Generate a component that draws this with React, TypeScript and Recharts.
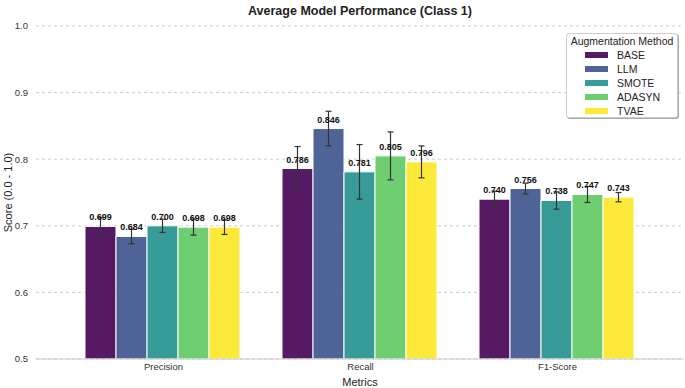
import { BarChart, Bar, XAxis, YAxis, CartesianGrid, ErrorBar, LabelList } from "recharts";

const metrics = ["Precision", "Recall", "F1-Score"];
const methods = ["BASE", "LLM", "SMOTE", "ADASYN", "TVAE"];
const baseScores = [0.699, 0.786, 0.74];
const llmScores = [0.684, 0.846, 0.756];
const smoteScores = [0.7, 0.781, 0.738];
const adasynScores = [0.698, 0.805, 0.747];
const tvaeScores = [0.698, 0.796, 0.743];
const baseErr = [0.013, 0.033, 0.012];
const llmErr = [0.011, 0.026, 0.008];
const smoteErr = [0.01, 0.041, 0.013];
const adasynErr = [0.012, 0.036, 0.012];
const tvaeErr = [0.011, 0.024, 0.007];
const yTicks = [0.5, 0.6, 0.7, 0.8, 0.9, 1.0];
const colors = ["#440154", "#3b528b", "#21918c", "#5ec962", "#fde725"];

const scores = [baseScores, llmScores, smoteScores, adasynScores, tvaeScores];
const errors = [baseErr, llmErr, smoteErr, adasynErr, tvaeErr];

const chartData = metrics.map((metric, i) => {
    const row: Record<string, string | number> = { metric };
    methods.forEach((m, j) => {
        row[m] = scores[j][i];
        row[m + "_err"] = errors[j][i];
    });
    return row;
});

const font = "'Liberation Sans', Arial, sans-serif";

function LegendBox() {
    return (
        <div
            style={{
                position: "absolute",
                left: 566,
                top: 33,
                width: 112,
                height: 85,
                boxSizing: "border-box",
                border: "1px solid #ccc",
                borderRadius: 3,
                background: "#fff",
                boxShadow: "1px 1px 0 #aaa",
                padding: "1px 0 0 0",
                fontFamily: font,
                color: "#222",
                whiteSpace: "nowrap",
            }}
        >
            <div style={{ fontSize: 10.5, textAlign: "center", lineHeight: "13px" }}>Augmentation Method</div>
            {methods.map((m, j) => (
                <div key={m} style={{ display: "flex", alignItems: "center", height: 14, fontSize: 10.5 }}>
                    <span
                        style={{
                            display: "inline-block",
                            width: 23,
                            height: 6,
                            marginLeft: 18,
                            marginRight: 9,
                            background: colors[j],
                            opacity: 0.9,
                        }}
                    />
                    {m}
                </div>
            ))}
        </div>
    );
}

export default function App() {
    return (
        <div style={{ position: "absolute", left: 0, top: 0, width: 685, height: 388, background: "#fff" }}>
            <BarChart
                width={685}
                height={388}
                data={chartData}
                margin={{ top: 26, right: 1, left: 0, bottom: 0 }}
                barCategoryGap={20}
                barGap={0}
                style={{ fontFamily: font }}
            >
                <CartesianGrid vertical={false} strokeDasharray="3 3" stroke="#ccc" />
                <XAxis
                    dataKey="metric"
                    height={29}
                    padding={{ left: 29, right: 28 }}
                    tickLine={false}
                    tickSize={4}
                    tickMargin={0}
                    axisLine={{ stroke: "#ccc" }}
                    tick={{ fontSize: 9.5, fill: "#333" }}
                    label={{ value: "Metrics", position: "insideBottom", offset: 2, fontSize: 11, fill: "#222" }}
                />
                <YAxis
                    domain={[0.5, 1]}
                    ticks={yTicks}
                    width={36}
                    axisLine={false}
                    tickLine={false}
                    tickFormatter={(v: number) => v.toFixed(1)}
                    tick={{ fontSize: 9.5, fill: "#333" }}
                    allowDataOverflow
                    label={{
                        value: "Score (0.0 - 1.0)",
                        angle: -90,
                        position: "insideLeft",
                        offset: 8,
                        fontSize: 11,
                        fill: "#222",
                        style: { textAnchor: "middle" },
                    }}
                />
                {methods.map((m, j) => (
                    <Bar
                        key={m}
                        dataKey={m}
                        fill={colors[j]}
                        fillOpacity={0.9}
                        stroke="#fff"
                        strokeWidth={1}
                        isAnimationActive={false}
                    >
                        <ErrorBar dataKey={m + "_err"} width={3} stroke="#333" strokeWidth={1.2} />
                        <LabelList
                            dataKey={m}
                            position="top"
                            offset={6}
                            formatter={(v: number) => v.toFixed(3)}
                            style={{ fontSize: 9, fontWeight: "bold", fill: "#111" }}
                        />
                    </Bar>
                ))}
            </BarChart>
            <div
                style={{
                    position: "absolute",
                    left: 36,
                    width: 648,
                    top: 3,
                    textAlign: "center",
                    fontFamily: font,
                    fontWeight: "bold",
                    fontSize: 12.5,
                    lineHeight: "16px",
                    color: "#222",
                }}
            >
                Average Model Performance (Class 1)
            </div>
            <LegendBox />
        </div>
    );
}
